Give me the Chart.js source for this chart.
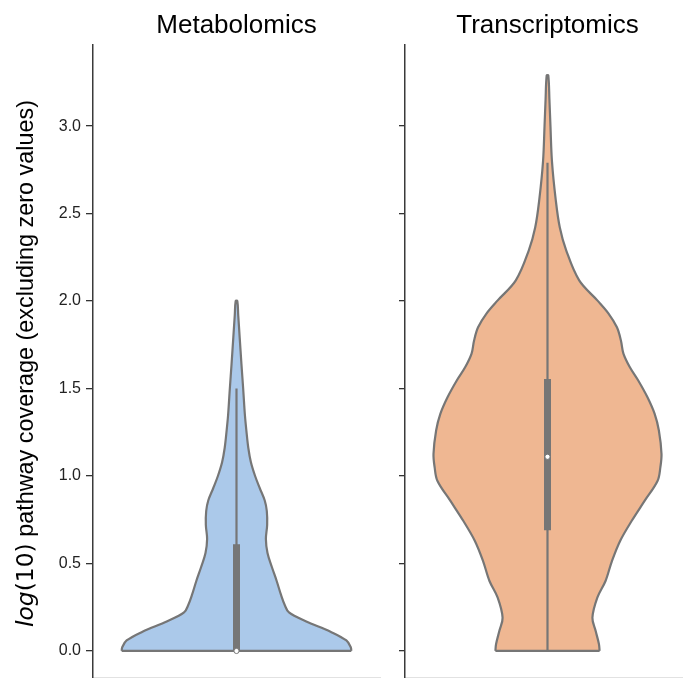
<!DOCTYPE html>
<html>
<head>
<meta charset="utf-8">
<script src="https://cdn.jsdelivr.net/npm/chart.js@4.4.0/dist/chart.umd.min.js"></script>
<style>
  html, body { margin: 0; padding: 0; background: #fff; overflow: hidden; }
  .panel { position: absolute; top: 0; height: 683px; }
  #metabBox { left: 0; width: 385px; }
  #transBox { left: 395px; width: 300px; }
</style>
</head>
<body>
<div class="panel" id="metabBox"><canvas id="metabChart"></canvas></div>
<div class="panel" id="transBox"><canvas id="transChart"></canvas></div>
<script>
// panel titles
const panelTitles = ['Metabolomics', 'Transcriptomics'];

// y tick labels (log10 coverage)
const yTicks = [0.0, 0.5, 1.0, 1.5, 2.0, 2.5, 3.0];

// Metabolomics violin: value levels and relative density (0..1)
const metabLevels  = [0.00, 0.02, 0.06, 0.11, 0.17, 0.22, 0.26, 0.32, 0.40, 0.48, 0.56, 0.64, 0.72,
                      0.80, 0.86, 0.93, 1.00, 1.08, 1.16, 1.26, 1.35, 1.50, 1.64, 1.79, 1.92, 2.00];
const metabDensity = [1.000, 0.996, 0.957, 0.819, 0.603, 0.457, 0.422, 0.388, 0.350, 0.308, 0.270, 0.256, 0.267,
                      0.264, 0.246, 0.203, 0.162, 0.125, 0.103, 0.086, 0.073, 0.058, 0.043, 0.028, 0.015, 0.007];
const metabQuartiles = [0.00, 0.61];
const metabWhiskers  = [0.00, 1.50];
const metabMedian    = 0.00;

// Transcriptomics violin
const transLevels  = [0.00, 0.04, 0.115, 0.19, 0.305, 0.40, 0.515, 0.63, 0.744, 0.859, 0.973, 1.05, 1.126, 1.26,
                      1.355, 1.45, 1.546, 1.62, 1.70, 1.775, 1.85, 1.93, 2.004, 2.118, 2.29, 2.42, 2.58, 2.80,
                      3.00, 3.15, 3.29];
const transDensity = [0.457, 0.451, 0.422, 0.394, 0.437, 0.509, 0.566, 0.638, 0.739, 0.853, 0.966, 0.990, 1.000, 0.977,
                      0.940, 0.877, 0.796, 0.724, 0.666, 0.644, 0.609, 0.534, 0.437, 0.278, 0.164, 0.108, 0.072, 0.039,
                      0.026, 0.017, 0.007];
const transQuartiles = [0.69, 1.555];
const transWhiskers  = [0.00, 2.79];
const transMedian    = 1.11;

const HALF_WIDTH = 0.4;      // seaborn default width 0.8
const Y_MIN = -0.1546;
const Y_MAX = 3.4637;
const LINE_GRAY = '#767676';
const FONT = "'Liberation Sans', Arial, sans-serif";

function violinOutline(levels, density) {
    const left = levels.map((y, i) => ({ x: -density[i] * HALF_WIDTH, y: y }));
    const right = levels.map((y, i) => ({ x: density[i] * HALF_WIDTH, y: y })).reverse();
    return left.concat(right);
}

function buildDatasets(levels, density, quartiles, whiskers, median, fillColor) {
    const base = density[0] * HALF_WIDTH;
    return [
        {
            data: violinOutline(levels, density),
            showLine: true,
            fill: 'shape',
            backgroundColor: fillColor,
            borderColor: LINE_GRAY,
            borderWidth: 2.2,
            tension: 0.35,
            pointRadius: 0,
            order: 5
        },
        {
            // flat bottom edge (violin cut at 0)
            data: [{ x: -base, y: levels[0] }, { x: base, y: levels[0] }],
            showLine: true,
            borderColor: LINE_GRAY,
            borderWidth: 2.2,
            pointRadius: 0,
            order: 4
        },
        {
            data: [{ x: 0, y: whiskers[0] }, { x: 0, y: whiskers[1] }],
            showLine: true,
            borderColor: LINE_GRAY,
            borderWidth: 2.2,
            pointRadius: 0,
            order: 3
        },
        {
            data: [{ x: 0, y: quartiles[0] }, { x: 0, y: quartiles[1] }],
            showLine: true,
            borderColor: LINE_GRAY,
            borderWidth: 7,
            borderCapStyle: 'butt',
            pointRadius: 0,
            order: 2
        },
        {
            data: [{ x: 0, y: median }],
            showLine: false,
            pointRadius: 2.6,
            pointBackgroundColor: '#ffffff',
            pointBorderColor: LINE_GRAY,
            pointBorderWidth: 1,
            order: 1
        }
    ];
}

// rotated y-axis label with italic "log" (mathtext style)
const yLabelPlugin = {
    id: 'yLabel',
    afterDraw(chart) {
        const ctx = chart.ctx;
        const parts = [
            { text: 'log', font: "italic 23.4px 'DejaVu Sans', sans-serif" },
            { text: '(10)', font: "23.4px 'DejaVu Sans', sans-serif" },
            { text: ' pathway coverage (excluding zero values)', font: "23.4px " + FONT }
        ];
        let total = 0;
        parts.forEach(p => { ctx.font = p.font; p.w = ctx.measureText(p.text).width; total += p.w; });
        const cy = (chart.chartArea.top + chart.chartArea.bottom) / 2 + 2;
        ctx.save();
        ctx.translate(27, cy);
        ctx.rotate(-Math.PI / 2);
        ctx.fillStyle = '#000';
        ctx.textBaseline = 'middle';
        ctx.textAlign = 'left';
        let x = -total / 2;
        parts.forEach(p => { ctx.font = p.font; ctx.fillText(p.text, x, 0); x += p.w; });
        ctx.restore();
    }
};

function makeChart(canvasId, title, datasets, showLabels) {
    const ctx = document.getElementById(canvasId).getContext('2d');
    return new Chart(ctx, {
        type: 'scatter',
        data: { datasets: datasets },
        options: {
            responsive: true,
            maintainAspectRatio: false,
            animation: false,
            events: [],
            layout: { padding: { left: 0, right: showLabels ? 4 : 2, top: 0, bottom: 1 } },
            plugins: {
                legend: { display: false },
                tooltip: { enabled: false },
                title: {
                    display: true,
                    text: title,
                    fullSize: false,
                    color: '#000',
                    font: { family: FONT, size: 26, weight: 'normal', lineHeight: 1.2 },
                    padding: { top: 10.5, bottom: 3.3 }
                }
            },
            scales: {
                x: {
                    type: 'linear',
                    min: -0.5,
                    max: 0.5,
                    afterFit: s => { s.height = 0; s.paddingLeft = 0; s.paddingRight = 0; },
                    ticks: { display: false },
                    grid: { display: false },
                    border: { display: true, color: '#e2e2e2', width: 1.5 }
                },
                y: {
                    type: 'linear',
                    min: Y_MIN,
                    max: Y_MAX,
                    afterBuildTicks: s => { s.ticks = yTicks.map(v => ({ value: v })); },
                    afterFit: s => { s.width = showLabels ? 93 : 10; s.paddingTop = 0; s.paddingBottom = 0; },
                    ticks: {
                        display: showLabels,
                        padding: 5,
                        color: '#222',
                        font: { family: FONT, size: 16 },
                        callback: v => v.toFixed(1)
                    },
                    grid: {
                        drawOnChartArea: false,
                        drawTicks: true,
                        tickLength: showLabels ? 7 : 6,
                        color: '#333',
                        lineWidth: 1.3
                    },
                    border: { display: true, color: '#3a3a3a', width: 1.5 }
                }
            }
        },
        plugins: showLabels ? [yLabelPlugin] : []
    });
}

makeChart('metabChart', panelTitles[0],
    buildDatasets(metabLevels, metabDensity, metabQuartiles, metabWhiskers, metabMedian, '#abc9ea'), true);
makeChart('transChart', panelTitles[1],
    buildDatasets(transLevels, transDensity, transQuartiles, transWhiskers, transMedian, '#efb792'), false);
</script>
</body>
</html>
